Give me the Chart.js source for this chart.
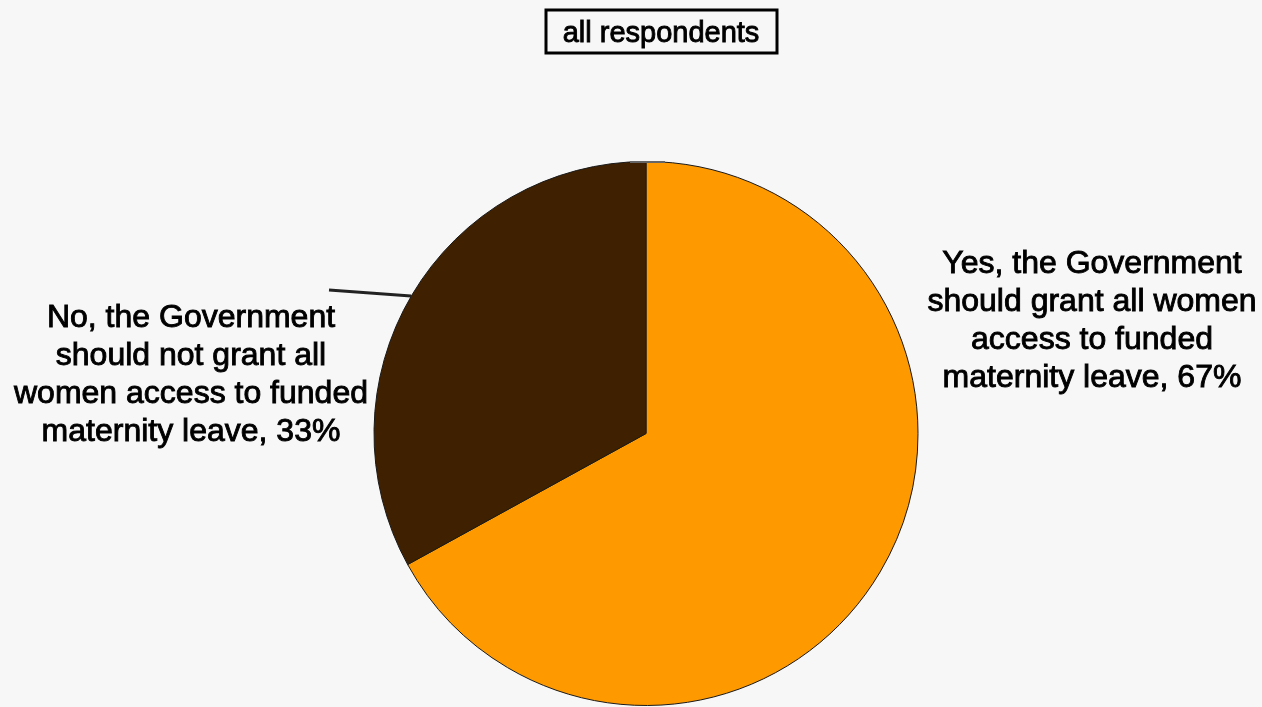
<!DOCTYPE html>
<html>
<head>
<meta charset="utf-8">
<script src="https://cdn.jsdelivr.net/npm/chart.js@4/dist/chart.umd.min.js"></script>
<style>
  html, body { margin: 0; padding: 0; background: #f7f7f7; }
  #wrap { width: 1262px; height: 707px; position: relative; }
</style>
</head>
<body>
<div id="wrap"><canvas id="c" width="1262" height="707"></canvas></div>
<script>
const categories = [
  "Yes, the Government should grant all women access to funded maternity leave",
  "No, the Government should not grant all women access to funded maternity leave"
];
const values = [67, 33];
const sliceColors = ["#FF9900", "#3F2000"];
const titleText = "all respondents";
const labelLines = [
  ["Yes, the Government", "should grant all women", "access to funded", "maternity leave, 67%"],
  ["No, the Government", "should not grant all", "women access to funded", "maternity leave, 33%"]
];

const FONT = '"Liberation Sans", Arial, sans-serif';

function boldText(ctx, txt, x, y) {
  ctx.fillText(txt, x, y);
  ctx.strokeText(txt, x, y);
}

const decorPlugin = {
  id: 'decor',
  beforeDraw(chart) {
    const ctx = chart.ctx;
    ctx.save();
    ctx.fillStyle = '#f7f7f7';
    ctx.fillRect(0, 0, chart.width, chart.height);
    ctx.restore();
  },
  afterDraw(chart) {
    const ctx = chart.ctx;
    ctx.save();
    // title box
    ctx.lineWidth = 3;
    ctx.strokeStyle = '#000';
    ctx.strokeRect(546, 10, 231, 43);
    ctx.fillStyle = '#000';
    ctx.font = '29px ' + FONT;
    ctx.textAlign = 'center';
    ctx.textBaseline = 'middle';
    ctx.lineWidth = 0.9;
    boldText(ctx, titleText, 661, 34);

    // leader lines
    ctx.lineWidth = 3;
    ctx.strokeStyle = '#222';
    ctx.beginPath();
    ctx.moveTo(329, 290);
    ctx.lineTo(411, 296);
    ctx.stroke();
    ctx.strokeStyle = '#666';
    ctx.lineWidth = 2;
    ctx.beginPath();
    ctx.moveTo(630, 162);
    ctx.lineTo(665, 162);
    ctx.stroke();

    // labels
    ctx.font = '32px ' + FONT;
    ctx.fillStyle = '#000';
    ctx.strokeStyle = '#000';
    ctx.lineWidth = 0.9;
    const anchors = [[1092, 264], [191, 318]];
    labelLines.forEach((lines, i) => {
      lines.forEach((ln, j) => {
        boldText(ctx, ln, anchors[i][0], anchors[i][1] + j * 38);
      });
    });
    ctx.restore();
  }
};

new Chart(document.getElementById('c'), {
  type: 'pie',
  data: {
    labels: categories,
    datasets: [{
      data: values,
      backgroundColor: sliceColors,
      borderColor: '#1a1a1a',
      borderWidth: 1
    }]
  },
  options: {
    responsive: false,
    animation: false,
    layout: { padding: { left: 373, right: 343, top: 161, bottom: 1 } },
    plugins: {
      legend: { display: false },
      title: { display: false },
      tooltip: { enabled: false }
    }
  },
  plugins: [decorPlugin]
});
</script>
</body>
</html>
